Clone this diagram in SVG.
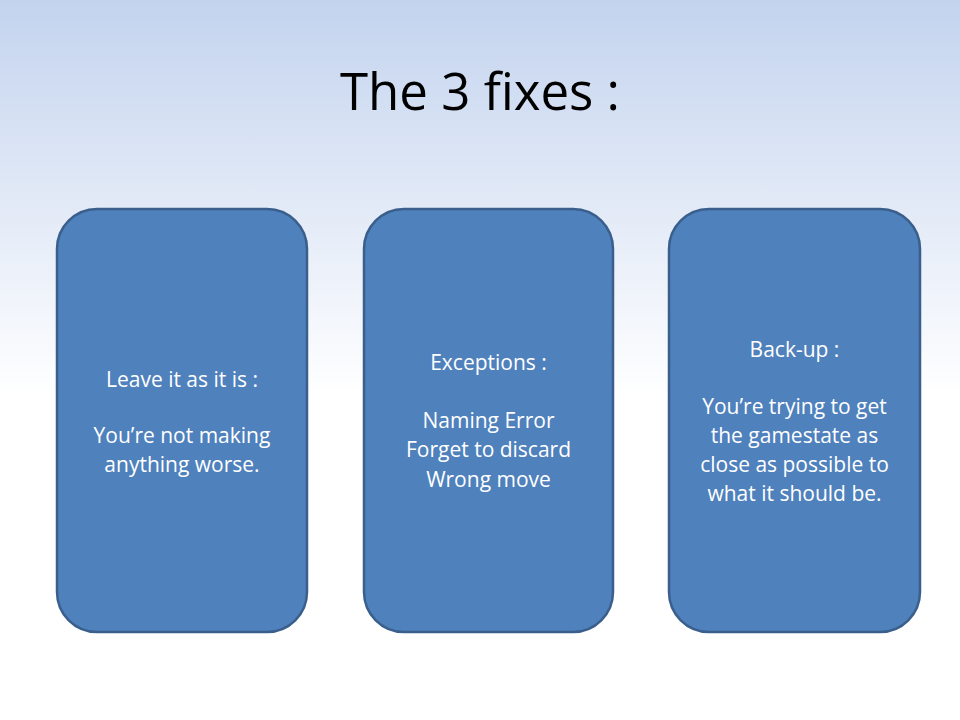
<svg xmlns="http://www.w3.org/2000/svg" width="960" height="720" viewBox="0 0 960 720">
<defs>
<linearGradient id="bg" x1="0" y1="0" x2="0" y2="1">
<stop offset="0" stop-color="#C3D3EE"/>
<stop offset="0.55" stop-color="#FFFFFF"/>
<stop offset="1" stop-color="#FFFFFF"/>
</linearGradient>
<style>
.box{fill:#4F81BD;stroke:#3A5F8C;stroke-width:2.5}
.t{font-family:"Open Sans","Liberation Sans",sans-serif;font-size:21px;fill:#FFFFFF;text-anchor:middle}
.title{font-family:"Open Sans","Liberation Sans",sans-serif;font-size:51px;fill:#000000;text-anchor:middle}
</style>
</defs>
<rect x="0" y="0" width="960" height="720" fill="url(#bg)"/>
<text class="title" x="480" y="110">The 3 fixes :</text>
<g id="node1">
<rect class="box" x="57" y="209" width="250" height="423" rx="40" ry="40"/>
<text class="t" x="182" y="387">Leave it as it is :</text>
<text class="t" x="182" y="443">You’re not making</text>
<text class="t" x="182" y="472">anything worse.</text>
</g>
<g id="node2">
<rect class="box" x="364" y="209" width="249" height="423" rx="40" ry="40"/>
<text class="t" x="488.5" y="370">Exceptions :</text>
<text class="t" x="488.5" y="428">Naming Error</text>
<text class="t" x="488.5" y="457">Forget to discard</text>
<text class="t" x="488.5" y="487">Wrong move</text>
</g>
<g id="node3">
<rect class="box" x="669" y="209" width="251" height="423" rx="40" ry="40"/>
<text class="t" x="794.5" y="357">Back-up :</text>
<text class="t" x="794.5" y="414">You’re trying to get</text>
<text class="t" x="794.5" y="443">the gamestate as</text>
<text class="t" x="794.5" y="472">close as possible to</text>
<text class="t" x="794.5" y="501">what it should be.</text>
</g>
<g id="connectors"/>
</svg>
